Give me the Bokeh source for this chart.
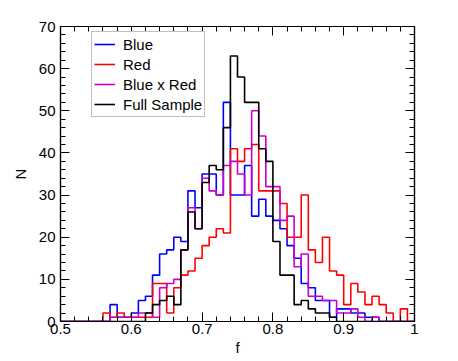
from bokeh.plotting import figure
from bokeh.models import Range1d, SingleIntervalTicker, LinearAxis, Legend, LegendItem, CustomJSTickFormatter
from bokeh.embed import file_html
from bokeh.resources import INLINE

# histogram bins: left edges 0.50 ... 0.99, width 0.01
bin_width = 0.01
bin_left = [round(0.50 + bin_width * i, 2) for i in range(50)]

blue = [0, 0, 0, 0, 0, 0, 0, 4, 1, 1,
        2, 5, 6, 11, 16, 17, 20, 19, 31, 27,
        35, 35, 30, 52, 30, 30, 37, 25, 29, 25,
        24, 22, 18, 15, 9, 8, 5, 5, 1, 3,
        3, 2, 2, 1, 1, 0, 0, 0, 0, 0]
red = [0, 0, 0, 0, 0, 0, 2, 1, 2, 1,
       1, 1, 1, 9, 9, 2, 8, 11, 12, 15,
       18, 20, 22, 21, 41, 38, 41, 42, 31, 31,
       31, 28, 20, 20, 30, 17, 14, 20, 12, 11,
       4, 9, 7, 4, 6, 4, 2, 0, 3, 0]
bxr = [0, 0, 0, 0, 0, 0, 0, 1, 1, 1,
       1, 2, 2, 1, 8, 9, 10, 17, 27, 22,
       34, 31, 30, 37, 38, 35, 30, 50, 44, 32,
       32, 24, 25, 13, 16, 6, 6, 5, 5, 2,
       2, 3, 1, 0, 1, 0, 0, 0, 0, 0]
full = [0, 0, 0, 0, 0, 0, 0, 0, 0, 0,
        0, 0, 2, 4, 5, 6, 4, 17, 26, 22,
        33, 37, 36, 46, 63, 58, 52, 52, 41, 38,
        19, 11, 11, 4, 5, 3, 2, 2, 1, 0,
        0, 0, 0, 0, 0, 0, 0, 0, 0, 0]

series = [("Blue", blue, "#0000ff"),
          ("Red", red, "#ff0000"),
          ("Blue x Red", bxr, "#cc00cc"),
          ("Full Sample", full, "#000000")]

p = figure(width=456, height=359, output_backend="svg", toolbar_location=None,
           x_range=Range1d(0.5, 1.0), y_range=Range1d(0, 70),
           min_border_left=60, min_border_right=42, min_border_top=26, min_border_bottom=38)
p.xgrid.visible = False
p.ygrid.visible = False
p.background_fill_color = "white"
p.border_fill_color = "white"
p.outline_line_color = "black"
p.outline_line_width = 1.2

FONT = "Liberation Sans"

xt = SingleIntervalTicker(interval=0.1, num_minor_ticks=5)
yt = SingleIntervalTicker(interval=10, num_minor_ticks=5)
xfmt = CustomJSTickFormatter(code="var s = tick.toFixed(1); return s.endsWith('.0') ? s.slice(0, -2) : s;")
blank = CustomJSTickFormatter(code="return '';")

def style(ax):
    ax.major_tick_in = 9
    ax.major_tick_out = 0
    ax.minor_tick_in = 5
    ax.minor_tick_out = 0
    ax.axis_line_color = "black"
    ax.axis_line_width = 1.2
    ax.major_tick_line_color = "black"
    ax.minor_tick_line_color = "black"
    ax.major_label_text_font = FONT
    ax.major_label_text_font_size = "15px"
    ax.major_label_text_color = "black"
    ax.axis_label_text_font = FONT
    ax.axis_label_text_font_size = "15px"
    ax.axis_label_text_font_style = "normal"
    ax.axis_label_text_color = "black"

p.xaxis.ticker = xt
p.xaxis.formatter = xfmt
p.yaxis.ticker = yt
p.xaxis.axis_label = "f"
p.yaxis.axis_label = "N"
for ax in p.xaxis + p.yaxis:
    style(ax)
p.xaxis.major_label_standoff = 2
p.xaxis.axis_label_standoff = 2
p.yaxis.major_label_standoff = 5
p.yaxis.axis_label_standoff = 7

top = LinearAxis(ticker=SingleIntervalTicker(interval=0.1, num_minor_ticks=5), formatter=blank)
right = LinearAxis(ticker=SingleIntervalTicker(interval=10, num_minor_ticks=5), formatter=blank)
for ax in (top, right):
    style(ax)
    ax.major_label_standoff = 0
p.add_layout(top, "above")
p.add_layout(right, "right")

items = []
for name, counts, color in series:
    xs = bin_left + [round(bin_left[-1] + bin_width, 2)]
    ys = counts + [counts[-1]]
    r = p.step(x=xs, y=ys, mode="after", line_color=color, line_width=1.6)
    items.append(LegendItem(label=name, renderers=[r]))

legend = Legend(items=items, location=(31, 204))
legend.label_text_font = FONT
legend.label_text_font_size = "15px"
legend.label_text_color = "black"
legend.label_height = 20
legend.glyph_height = 20
legend.glyph_width = 21
legend.label_standoff = 8
legend.spacing = 0
legend.padding = 2
legend.margin = 0
legend.border_line_color = "#808080"
legend.border_line_width = 1
legend.background_fill_color = "white"
legend.background_fill_alpha = 1
p.add_layout(legend, "center")

open("out.html", "w").write(file_html(p, INLINE))
